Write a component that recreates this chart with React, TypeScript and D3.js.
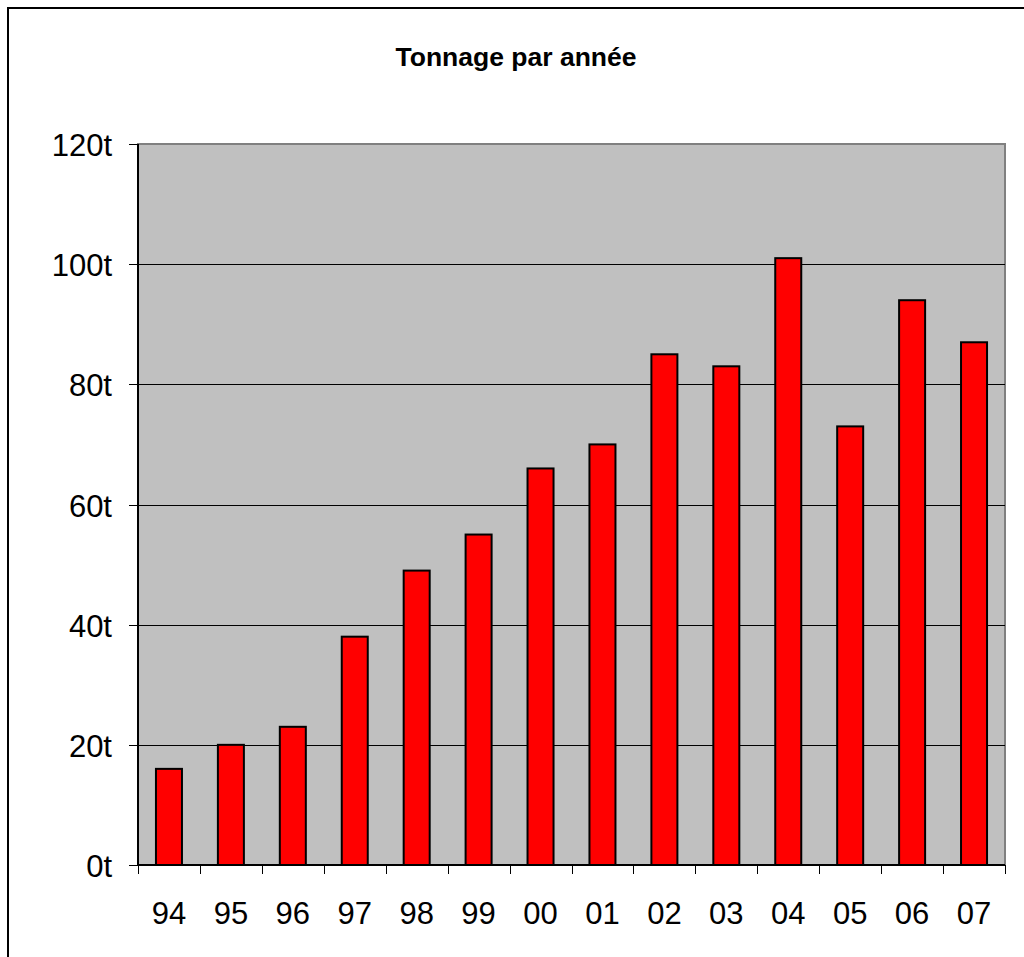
import { useEffect, useRef } from "react";
import * as d3 from "d3";

const years = ["94", "95", "96", "97", "98", "99", "00", "01", "02", "03", "04", "05", "06", "07"];
const tonnage = [16, 20, 23, 38, 49, 55, 66, 70, 85, 83, 101, 73, 94, 87];
const yTicks = [0, 20, 40, 60, 80, 100, 120];
const title = "Tonnage par année";

export default function App() {
  const svgRef = useRef<SVGSVGElement>(null);

  useEffect(() => {
    if (!svgRef.current) return;
    const width = 1024;
    const height = 957;
    const plot = { left: 138, right: 1005, top: 144, bottom: 865 };
    const font = "'Liberation Sans', Arial, sans-serif";

    const svg = d3.select(svgRef.current);
    svg.selectAll("*").remove();
    svg.attr("width", width).attr("height", height);

    // white background + outer frame (right/bottom edges fall outside the picture)
    svg.append("rect").attr("width", width).attr("height", height).attr("fill", "#fff");
    svg
      .append("rect")
      .attr("x", 8)
      .attr("y", 8)
      .attr("width", 1040)
      .attr("height", 980)
      .attr("fill", "none")
      .attr("stroke", "#000")
      .attr("stroke-width", 2);

    svg
      .append("text")
      .attr("x", 516)
      .attr("y", 66)
      .attr("text-anchor", "middle")
      .attr("font-family", font)
      .attr("font-weight", "bold")
      .attr("font-size", 26.5)
      .text(title);

    const x = d3
      .scaleBand<string>()
      .domain(years)
      .range([plot.left, plot.right])
      .paddingInner(0.58)
      .paddingOuter(0.29);

    const y = d3.scaleLinear().domain([0, 120]).range([plot.bottom, plot.top]);

    // plot area
    svg
      .append("rect")
      .attr("x", plot.left)
      .attr("y", plot.top)
      .attr("width", plot.right - plot.left)
      .attr("height", plot.bottom - plot.top)
      .attr("fill", "#c0c0c0")
      .attr("stroke", "#808080")
      .attr("stroke-width", 2);

    // gridlines
    svg
      .append("g")
      .selectAll("line")
      .data(yTicks.filter((t) => t > 0 && t < 120))
      .enter()
      .append("line")
      .attr("x1", plot.left)
      .attr("x2", plot.right)
      .attr("y1", (d) => Math.round(y(d)) + 0.5)
      .attr("y2", (d) => Math.round(y(d)) + 0.5)
      .attr("stroke", "#000")
      .attr("stroke-width", 1);

    // bars
    svg
      .append("g")
      .selectAll("rect")
      .data(tonnage)
      .enter()
      .append("rect")
      .attr("x", (_, i) => x(years[i])!)
      .attr("y", (d) => y(d))
      .attr("width", x.bandwidth())
      .attr("height", (d) => plot.bottom - y(d))
      .attr("fill", "#ff0000")
      .attr("stroke", "#000")
      .attr("stroke-width", 2);

    // y axis
    const yAxis = svg.append("g");
    yAxis
      .append("line")
      .attr("x1", plot.left)
      .attr("x2", plot.left)
      .attr("y1", plot.top)
      .attr("y2", plot.bottom)
      .attr("stroke", "#000")
      .attr("stroke-width", 2);
    yAxis
      .selectAll("line.tick")
      .data(yTicks)
      .enter()
      .append("line")
      .attr("class", "tick")
      .attr("x1", plot.left - 9)
      .attr("x2", plot.left)
      .attr("y1", (d) => Math.round(y(d)) + 0.5)
      .attr("y2", (d) => Math.round(y(d)) + 0.5)
      .attr("stroke", "#000");
    yAxis
      .selectAll("text")
      .data(yTicks)
      .enter()
      .append("text")
      .attr("x", 112)
      .attr("y", (d) => y(d) + 12)
      .attr("text-anchor", "end")
      .attr("font-family", font)
      .attr("font-size", 31)
      .text((d) => `${d}t`);

    // x axis
    const xAxis = svg.append("g");
    xAxis
      .append("line")
      .attr("x1", plot.left)
      .attr("x2", plot.right)
      .attr("y1", plot.bottom)
      .attr("y2", plot.bottom)
      .attr("stroke", "#000")
      .attr("stroke-width", 2);
    const step = x.step();
    const bounds = d3.range(years.length + 1).map((i) => plot.left + i * step);
    xAxis
      .selectAll("line.tick")
      .data(bounds)
      .enter()
      .append("line")
      .attr("class", "tick")
      .attr("x1", (d) => Math.round(d) + 0.5)
      .attr("x2", (d) => Math.round(d) + 0.5)
      .attr("y1", plot.bottom)
      .attr("y2", plot.bottom + 9)
      .attr("stroke", "#000");
    xAxis
      .selectAll("text")
      .data(years)
      .enter()
      .append("text")
      .attr("x", (d) => x(d)! + x.bandwidth() / 2)
      .attr("y", 924)
      .attr("text-anchor", "middle")
      .attr("font-family", font)
      .attr("font-size", 31)
      .text((d) => d);
  }, []);

  return (
    <svg
      ref={svgRef}
      style={{ position: "absolute", left: 0, top: 0, display: "block" }}
    />
  );
}
